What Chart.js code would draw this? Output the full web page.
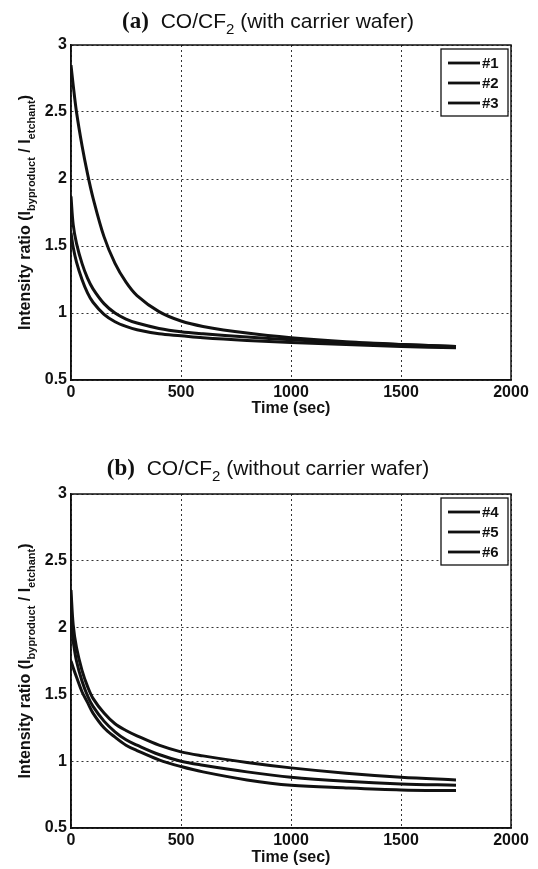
<!DOCTYPE html>
<html>
<head>
<meta charset="utf-8">
<script src="https://cdn.jsdelivr.net/npm/chart.js@4.4.1/dist/chart.umd.min.js"></script>
<style>
  body { margin: 0; background: #fff; width: 538px; height: 869px; position: relative; overflow: hidden; }
  .panel { position: absolute; left: 0; width: 538px; }
  .title { position: absolute; left: 0; width: 536px; text-align: center; color: #111;
           font: 21px/24px "Liberation Sans", Arial, sans-serif; white-space: nowrap; }
  .title b { font: bold 23px "Liberation Serif", "Times New Roman", serif; margin-right: 6px; }
  .title sub { font-size: 15px; vertical-align: -6px; line-height: 0; }
</style>
</head>
<body>
<div class="panel" style="top:0;height:420px"><canvas id="chartA"></canvas></div>
<div class="panel" style="top:440px;height:429px"><canvas id="chartB"></canvas></div>
<div class="title" style="top:8px"><b>(a)</b> CO/CF<sub>2</sub> (with carrier wafer)</div>
<div class="title" style="top:455px"><b>(b)</b> CO/CF<sub>2</sub> (without carrier wafer)</div>
<script>
// sample times (sec)
const times = [0, 10, 25, 50, 75, 100, 150, 200, 250, 300, 400, 500, 600, 800, 1000, 1250, 1500, 1750];

// (a) with carrier wafer
const run1 = [2.85, 2.70, 2.50, 2.25, 2.04, 1.86, 1.57, 1.37, 1.23, 1.13, 1.01, 0.94, 0.90, 0.85, 0.815, 0.785, 0.765, 0.75];
const run2 = [1.87, 1.66, 1.52, 1.37, 1.26, 1.18, 1.07, 1.00, 0.955, 0.925, 0.885, 0.86, 0.845, 0.82, 0.80, 0.78, 0.765, 0.75];
const run3 = [1.60, 1.49, 1.38, 1.25, 1.15, 1.08, 0.99, 0.935, 0.90, 0.875, 0.845, 0.83, 0.815, 0.795, 0.78, 0.765, 0.75, 0.74];

// (b) without carrier wafer
const run4 = [2.28, 2.02, 1.85, 1.68, 1.56, 1.47, 1.36, 1.28, 1.23, 1.19, 1.12, 1.07, 1.04, 0.99, 0.95, 0.91, 0.88, 0.86];
const run5 = [2.05, 1.90, 1.75, 1.60, 1.49, 1.41, 1.30, 1.22, 1.16, 1.12, 1.05, 1.00, 0.97, 0.92, 0.88, 0.85, 0.83, 0.82];
const run6 = [1.75, 1.70, 1.63, 1.52, 1.44, 1.36, 1.25, 1.18, 1.12, 1.08, 1.01, 0.96, 0.92, 0.86, 0.82, 0.80, 0.785, 0.78];

const labelsA = ['#1', '#2', '#3'];
const labelsB = ['#4', '#5', '#6'];
const xTicks = [0, 500, 1000, 1500, 2000];
const yTicks = [0.5, 1, 1.5, 2, 2.5, 3];

const FONT = '"Liberation Sans", Arial, sans-serif';

function pts(ys) {
  return times.map((t, i) => ({ x: t, y: ys[i] }));
}

// box round the axes, legend in the corner and the y title with subscripts
const frame = {
  id: 'frame',
  afterDraw(chart) {
    const { ctx, chartArea: a } = chart;
    ctx.save();
    ctx.strokeStyle = '#111';
    ctx.lineWidth = 1.5;
    ctx.strokeRect(a.left, a.top, a.right - a.left, a.bottom - a.top);

    // legend
    const bw = 67, bh = 67;
    const bx = a.right - 70, by = a.top + 4;
    ctx.fillStyle = '#fff';
    ctx.fillRect(bx, by, bw, bh);
    ctx.lineWidth = 1.3;
    ctx.strokeRect(bx, by, bw, bh);
    ctx.font = 'bold 15px ' + FONT;
    ctx.textBaseline = 'middle';
    ctx.fillStyle = '#111';
    chart.data.datasets.forEach((ds, i) => {
      const y = by + 14 + i * 20;
      ctx.lineWidth = 2.8;
      ctx.beginPath();
      ctx.moveTo(bx + 7, y);
      ctx.lineTo(bx + 39, y);
      ctx.stroke();
      ctx.fillText(ds.label, bx + 41, y + 1);
    });

    // y axis title
    const parts = [['Intensity ratio (I', 0], ['byproduct', 1], [' / I', 0], ['etchant', 1], [')', 0]];
    const main = 'bold 16px ' + FONT, small = 'bold 11px ' + FONT;
    let total = 0;
    parts.forEach(p => { ctx.font = p[1] ? small : main; total += ctx.measureText(p[0]).width; });
    ctx.translate(30, (a.top + a.bottom) / 2);
    ctx.rotate(-Math.PI / 2);
    ctx.textBaseline = 'alphabetic';
    let x = -total / 2;
    parts.forEach(p => {
      ctx.font = p[1] ? small : main;
      ctx.fillText(p[0], x, p[1] ? 5 : 0);
      x += ctx.measureText(p[0]).width;
    });
    ctx.restore();
  }
};

function makeChart(id, labels, series, xAxisHeight) {
  const ctx = document.getElementById(id).getContext('2d');
  return new Chart(ctx, {
    type: 'line',
    data: {
      datasets: series.map((s, i) => ({
        label: labels[i],
        data: pts(s),
        borderColor: '#111',
        borderWidth: 3,
        pointRadius: 0,
        fill: false,
        tension: 0.35
      }))
    },
    options: {
      responsive: true,
      maintainAspectRatio: false,
      animation: false,
      layout: { padding: { top: id === 'chartA' ? 45 : 54, right: 27, left: 0, bottom: 0 } },
      plugins: { legend: { display: false }, tooltip: { enabled: false } },
      scales: {
        x: {
          type: 'linear',
          min: 0,
          max: 2000,
          afterBuildTicks: s => { s.ticks = xTicks.map(v => ({ value: v })); },
          afterFit: s => { s.height = xAxisHeight; },
          ticks: { color: '#111', font: { family: FONT, size: 16, weight: 'bold' }, padding: 3, maxRotation: 0,
                   callback: v => String(v) },
          grid: { color: '#333', lineWidth: 1, drawTicks: false },
          border: { color: '#111', width: 1.5, dash: [2, 3] },
          title: { display: true, text: 'Time (sec)', color: '#111',
                   font: { family: FONT, size: 16, weight: 'bold' }, padding: { top: 0, bottom: 2 } }
        },
        y: {
          min: 0.5,
          max: 3,
          afterBuildTicks: s => { s.ticks = yTicks.map(v => ({ value: v })); },
          afterFit: s => { s.width = 71; },
          ticks: { color: '#111', font: { family: FONT, size: 16, weight: 'bold' }, padding: 4,
                   callback: v => String(v) },
          grid: { color: '#333', lineWidth: 1, drawTicks: false },
          border: { color: '#111', width: 1.5, dash: [2, 3] }
        }
      }
    },
    plugins: [frame]
  });
}

makeChart('chartA', labelsA, [run1, run2, run3], 40);
makeChart('chartB', labelsB, [run4, run5, run6], 41);
</script>
</body>
</html>
